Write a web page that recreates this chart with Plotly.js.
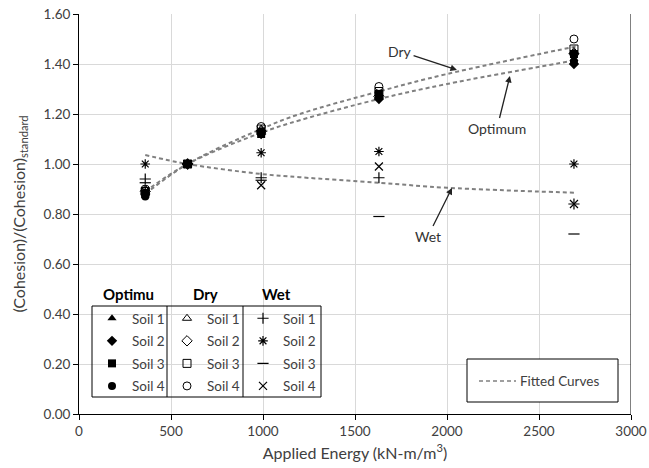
<!DOCTYPE html>
<html>
<head>
<meta charset="utf-8">
<script src="https://cdn.plot.ly/plotly-3.0.1.min.js"></script>
<style>html,body{margin:0;padding:0;background:#fff;}#chart{width:649px;height:468px;}</style>
</head>
<body>
<div id="chart"></div>
<script>
// Applied energy levels (kN-m/m3)
const energy = [360, 590, 990, 1630, 2690];

// Optimum moisture
const optSoil1 = [0.89, 1.00, 1.13, 1.27, 1.42];
const optSoil2 = [0.88, 1.00, 1.12, 1.26, 1.40];
const optSoil3 = [0.88, 1.00, 1.12, 1.28, 1.44];
const optSoil4 = [0.87, 1.00, 1.13, 1.27, 1.41];
// Dry of optimum
const drySoil1 = [0.90, 1.00, 1.14, 1.28, 1.45];
const drySoil2 = [0.89, 1.00, 1.13, 1.27, 1.44];
const drySoil3 = [0.89, 1.00, 1.14, 1.29, 1.46];
const drySoil4 = [0.90, 1.00, 1.15, 1.31, 1.50];
// Wet of optimum
const wetSoil1 = [0.94, 1.00, 0.945, 0.945, 0.84];
const wetSoil2 = [1.00, 1.00, 1.045, 1.05, 1.00];
const wetSoil3 = [0.925, 1.00, 0.935, 0.79, 0.72];
const wetSoil4 = [0.89, 1.00, 0.915, 0.99, 0.84];

// Fitted curves
const fitX   = [360, 590, 990, 1200, 1630, 2000, 2700];
const fitDry = [0.88, 1.00, 1.14, 1.20, 1.29, 1.36, 1.47];
const fitOpt = [0.89, 1.00, 1.125, 1.175, 1.26, 1.32, 1.415];
const fitWet = [1.036, 1.00, 0.96, 0.947, 0.925, 0.905, 0.885];

const soilNames = ['Soil 1', 'Soil 2', 'Soil 3', 'Soil 4'];
const groupHeaders = ['Optimu', 'Dry', 'Wet'];
const xTicks = [0, 500, 1000, 1500, 2000, 2500, 3000];
const yTicks = [0, 0.2, 0.4, 0.6, 0.8, 1.0, 1.2, 1.4, 1.6];

const FONT = 'Lato, "Liberation Sans", sans-serif';
const TXT = '#404040';

function pts(y, name, symbol, legend, size, lw) {
  return {
    x: energy, y: y, name: name, type: 'scatter', mode: 'markers',
    legend: legend, legendgroup: legend + name,
    marker: {symbol: symbol, size: size || 8, color: '#000',
             line: {color: '#000', width: lw === undefined ? 1 : lw}}
  };
}
function curve(y) {
  return {
    x: fitX, y: y, type: 'scatter', mode: 'lines', name: 'Fitted Curves',
    showlegend: false, hoverinfo: 'skip',
    line: {color: '#808080', width: 2, dash: '4px,3px', shape: 'spline'}
  };
}

const optData = [optSoil1, optSoil2, optSoil3, optSoil4];
const dryData = [drySoil1, drySoil2, drySoil3, drySoil4];
const wetData = [wetSoil1, wetSoil2, wetSoil3, wetSoil4];
const optSym = ['triangle-up', 'diamond', 'square', 'circle'];
const drySym = ['triangle-up-open', 'diamond-open', 'square-open', 'circle-open'];
const wetSym = ['cross-thin-open', 'asterisk-open', 'line-ew-open', 'x-thin-open'];

const traces = [curve(fitDry), curve(fitOpt), curve(fitWet)];
for (let i = 0; i < 4; i++) traces.push(pts(optData[i], soilNames[i], optSym[i], 'legend', 8, 0));
for (let i = 0; i < 4; i++) traces.push(pts(dryData[i], soilNames[i], drySym[i], 'legend2', 8, 1));
for (let i = 0; i < 4; i++) traces.push(pts(wetData[i], soilNames[i], wetSym[i], 'legend3', 8, 1.2));

// pixel helpers for paper coords (plot area 79..631 x 14..414)
const px = v => (v - 79) / 552;
const py = v => (414 - v) / 400;

function legendBox(x) {
  return {x: px(x), y: py(303), xanchor: 'left', yanchor: 'top',
          borderwidth: 0, bgcolor: 'rgba(255,255,255,0)',
          tracegroupgap: 2, font: {family: FONT, size: 13.5, color: TXT}};
}

const headerX = [128, 205, 276];
const annotations = groupHeaders.map((h, i) => ({
  xref: 'paper', yref: 'paper', x: px(headerX[i]), y: py(294), xanchor: 'center', yanchor: 'middle',
  text: '<b>' + h + '</b>', showarrow: false, font: {family: FONT, size: 15, color: '#000'}
}));
annotations.push(
  {xref: 'paper', yref: 'paper', x: px(518), y: py(381), xanchor: 'left', yanchor: 'middle', text: 'Fitted Curves', showarrow: false, font: {family: FONT, size: 13.5, color: TXT}},
  {x: 2054, y: 1.376, ax: 1745, ay: 1.452, axref: 'x', ayref: 'y', text: 'Dry', showarrow: true,
   arrowhead: 2, arrowsize: 1, arrowwidth: 1.3, arrowcolor: '#222', font: {family: FONT, size: 14, color: '#333'}},
  {x: 2342, y: 1.352, ax: 2272, ay: 1.144, axref: 'x', ayref: 'y', text: 'Optimum', showarrow: true,
   arrowhead: 2, arrowsize: 1, arrowwidth: 1.3, arrowcolor: '#222', font: {family: FONT, size: 14, color: '#333'}},
  {x: 2027, y: 0.904, ax: 1897, ay: 0.712, axref: 'x', ayref: 'y', text: 'Wet', showarrow: true,
   arrowhead: 2, arrowsize: 1, arrowwidth: 1.3, arrowcolor: '#222', font: {family: FONT, size: 14, color: '#333'}}
);

const layout = {
  width: 649, height: 468,
  margin: {l: 79, r: 18, t: 14, b: 54},
  paper_bgcolor: '#fff', plot_bgcolor: '#fff',
  font: {family: FONT, size: 13, color: TXT},
  showlegend: true,
  legend: legendBox(92),
  legend2: legendBox(167),
  legend3: legendBox(243),
  xaxis: {
    range: [0, 3000], tickvals: xTicks, ticktext: xTicks.map(String),
    showgrid: true, gridcolor: '#d9d9d9', gridwidth: 1,
    showline: true, linecolor: '#000', linewidth: 1,
    ticks: 'outside', ticklen: 5, tickcolor: '#000',
    zeroline: false, tickfont: {family: FONT, size: 13.5, color: TXT},
    title: {text: 'Applied Energy (kN-m/m<sup>3</sup>)', font: {family: FONT, size: 16, color: TXT}, standoff: 9}
  },
  yaxis: {
    range: [0, 1.6], tickvals: yTicks, ticktext: yTicks.map(v => v.toFixed(2)),
    showgrid: true, gridcolor: '#d9d9d9', gridwidth: 1,
    showline: true, linecolor: '#000', linewidth: 1,
    ticks: 'outside', ticklen: 5, tickcolor: '#000',
    zeroline: false, tickfont: {family: FONT, size: 13.5, color: TXT},
    title: {text: '(Cohesion)/(Cohesion)<sub>standard</sub>', font: {family: FONT, size: 16, color: TXT}, standoff: 14}
  },
  shapes: [
    {type: 'line', xref: 'x', yref: 'paper', x0: 3000, x1: 3000, y0: 0, y1: 1, line: {color: '#000', width: 1}},
    // soil legend table
    {type: 'rect', xref: 'paper', yref: 'paper', x0: px(92), x1: px(321), y0: py(397), y1: py(306),
     line: {color: '#000', width: 1}},
    {type: 'line', xref: 'paper', yref: 'paper', x0: px(167), x1: px(167), y0: py(397), y1: py(306), line: {color: '#000', width: 1}},
    {type: 'line', xref: 'paper', yref: 'paper', x0: px(243), x1: px(243), y0: py(397), y1: py(306), line: {color: '#000', width: 1}},
    // fitted curves key
    {type: 'rect', xref: 'paper', yref: 'paper', x0: px(467), x1: px(618), y0: py(402), y1: py(359),
     line: {color: '#000', width: 1}, fillcolor: '#fff'},
    {type: 'line', xref: 'paper', yref: 'paper', x0: px(479), x1: px(516), y0: py(381), y1: py(381),
     line: {color: '#808080', width: 1.5, dash: '4px,3px'}}
  ],
  annotations: annotations
};

Plotly.newPlot('chart', traces, layout, {displayModeBar: false, staticPlot: true});
</script>
</body>
</html>
